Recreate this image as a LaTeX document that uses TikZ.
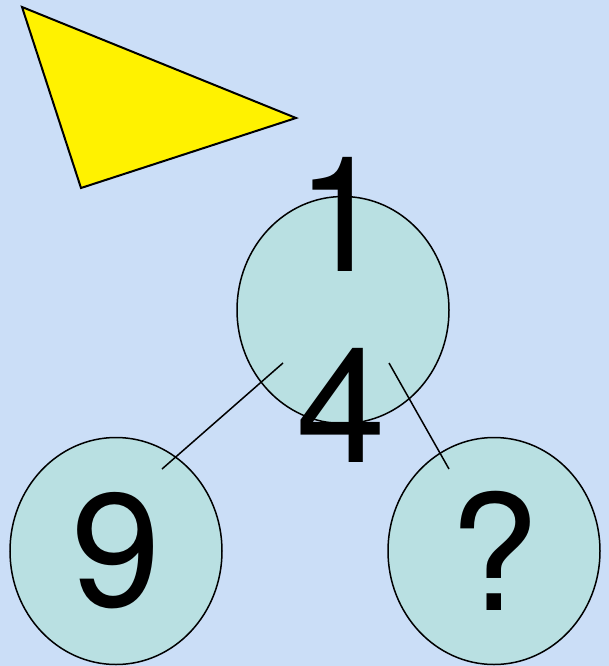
\documentclass[tikz,border=0pt]{standalone}
\usepackage{fontspec}
\setmainfont{TeX Gyre Heros}
\usetikzlibrary{shapes.geometric}
\definecolor{bgblue}{RGB}{203,222,247}
\definecolor{nodeteal}{RGB}{185,224,226}
\tikzset{
    treenode/.style={
        ellipse,
        draw=black,
        fill=nodeteal,
        line width=1.5pt,
        inner sep=0pt,
        minimum width=212pt,
        minimum height=227pt,
        font=\fontsize{161}{191}\selectfont
    },
    branch/.style={
        line width=1.5pt,
        draw=black
    }
}

\begin{document}
\begin{tikzpicture}[x=1pt, y=-1pt]
        % Background
        \fill[bgblue] (0,0) rectangle (609,666);
        \useasboundingbox (0,0) rectangle (609,666);

        % Pointer triangle
        \draw[fill=yellow, line width=2pt, line join=miter] (22,7) -- (296,118) -- (81,188) -- cycle;

        % Root and children
        \node (root) [treenode] at (343,310) {};
        \node (left) [treenode] at (116,551) {9};
        \node (right) [treenode] at (494,551) {?};

        % Branch ends
        \coordinate (left_top) at (283,363);
        \coordinate (left_end) at (162,469);
        \coordinate (right_top) at (389,363);
        \coordinate (right_end) at (449,469);

        % Branches
        \draw [branch] (left_top) -- (left_end);
        \draw [branch] (right_top) -- (right_end);

        % Root value
        \node (root_text) [font=\fontsize{161}{191}\selectfont, align=center, inner sep=0pt] at (341,310) {1\\4};
\end{tikzpicture}
\end{document}
